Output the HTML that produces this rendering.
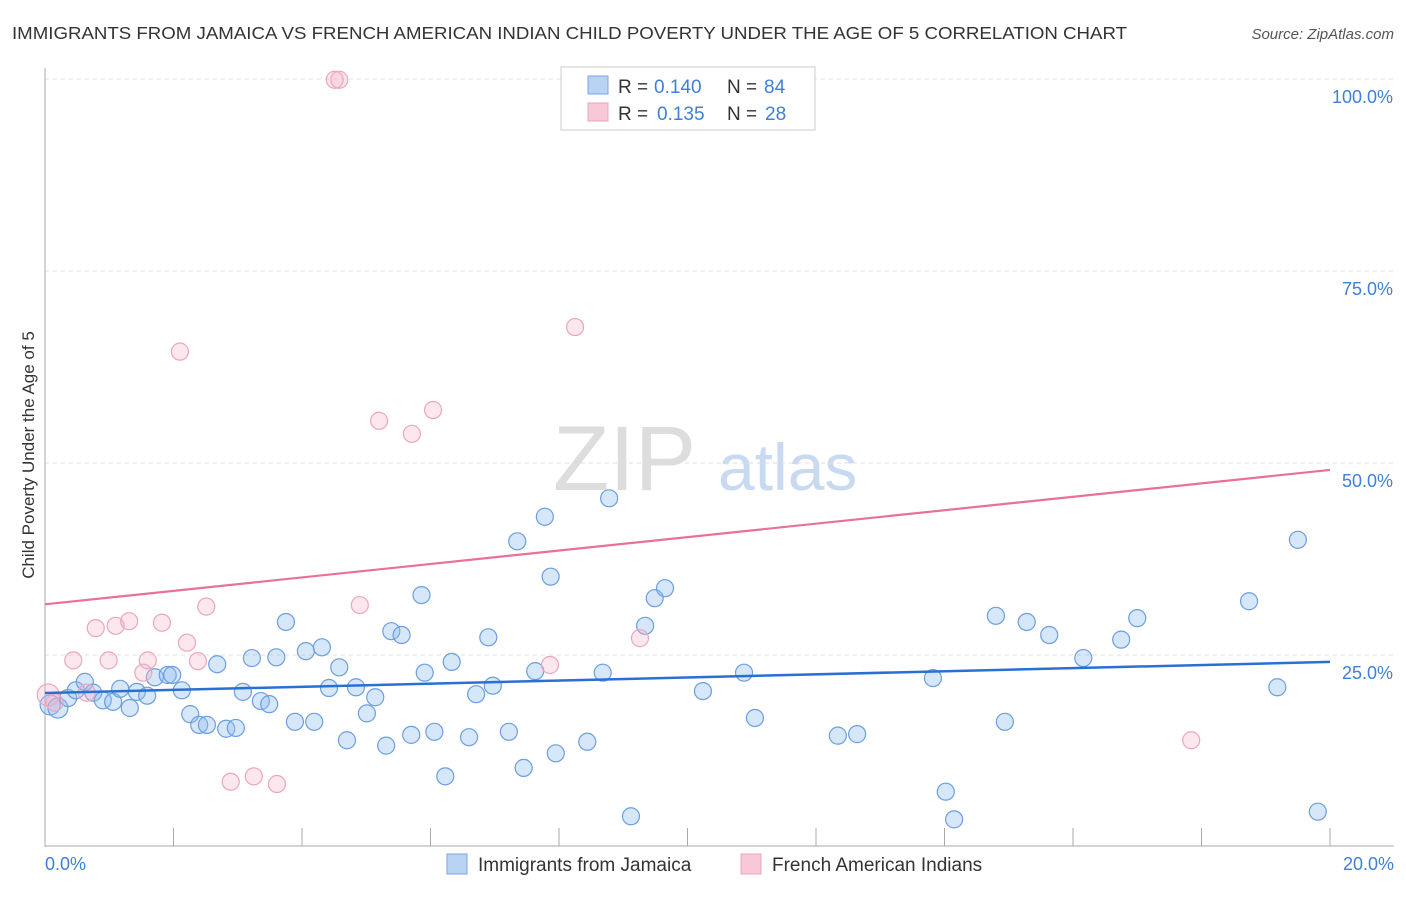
<!DOCTYPE html>
<html><head><meta charset="utf-8"><style>
body{margin:0;background:#fff;font-family:"Liberation Sans",sans-serif}
svg text{font-family:"Liberation Sans",sans-serif}
</style></head><body>
<svg id="c" width="1406" height="892" xmlns="http://www.w3.org/2000/svg">
<text x="12" y="39" font-size="17.5" textLength="1115" lengthAdjust="spacingAndGlyphs" fill="#333">IMMIGRANTS FROM JAMAICA VS FRENCH AMERICAN INDIAN CHILD POVERTY UNDER THE AGE OF 5 CORRELATION CHART</text>
<text x="1394" y="39" font-size="15" fill="#555" font-style="italic" text-anchor="end">Source: ZipAtlas.com</text>
<text x="34" y="455" font-size="17" fill="#333" text-anchor="middle" transform="rotate(-90 34 455)">Child Poverty Under the Age of 5</text>
<text x="553" y="490" font-size="92" fill="#ddd" font-family="Liberation Serif">ZIP</text>
<text x="718" y="490" font-size="66" fill="#c8daf2">atlas</text>
<g id="grid"></g><g id="axes"></g><g id="pts"></g><g id="lines"></g>
<g>
<rect x="561" y="67" width="254" height="63" fill="#fff" stroke="#ccc"/>
<rect x="588" y="76" width="20" height="18" fill="#b9d3f5" stroke="#7aa6e2"/>
<text x="618" y="93" font-size="19" fill="#333">R =</text>
<text x="654" y="93" font-size="19" fill="#3f7fd6">0.140</text>
<text x="727" y="93" font-size="19" fill="#333">N =</text>
<text x="764" y="93" font-size="19" fill="#3f7fd6">84</text>
<rect x="588" y="103" width="20" height="18" fill="#f8c8d6" stroke="#eda5bd"/>
<text x="618" y="120" font-size="19" fill="#333">R =</text>
<text x="657" y="120" font-size="19" fill="#3f7fd6">0.135</text>
<text x="727" y="120" font-size="19" fill="#333">N =</text>
<text x="765" y="120" font-size="19" fill="#3f7fd6">28</text>
</g>
<g>
<rect x="447" y="854" width="20" height="20" fill="#b9d3f5" stroke="#7aa6e2"/>
<text x="478" y="871" font-size="19" fill="#333">Immigrants from Jamaica</text>
<rect x="741" y="854" width="20" height="20" fill="#f8c8d6" stroke="#eda5bd"/>
<text x="772" y="871" font-size="19" fill="#333">French American Indians</text>
</g>
</svg>
<script>
const blueX=[0.08,0.2,0.36,0.48,0.62,0.75,0.9,1.06,1.17,1.32,1.43,1.59,1.71,1.91,1.98,2.13,2.26,2.4,2.52,2.68,2.82,2.97,3.08,3.22,3.36,3.49,3.6,3.75,3.89,4.06,4.19,4.31,4.42,4.58,4.7,4.84,5.01,5.14,5.31,5.39,5.55,5.7,5.86,5.91,6.06,6.23,6.33,6.6,6.71,6.9,6.97,7.22,7.35,7.45,7.63,7.78,7.87,7.95,8.44,8.68,8.78,9.12,9.34,9.49,9.65,10.24,10.88,11.05,12.34,12.64,13.82,14.02,14.15,14.8,14.94,15.28,15.63,16.16,16.75,17.0,18.74,19.18,19.5,19.81];
const blueY=[18.5,18.1,19.4,20.4,21.5,20.1,19.1,18.9,20.6,18.1,20.2,19.7,22.1,22.4,22.4,20.4,17.3,15.9,15.9,23.8,15.4,15.5,20.2,24.6,19.0,18.6,24.7,29.3,16.3,25.5,16.3,26.0,20.7,23.4,13.9,20.8,17.4,19.5,13.2,28.1,27.6,14.6,32.8,22.7,15.0,9.2,24.1,14.3,19.9,27.3,21.0,15.0,39.8,10.3,22.9,43.0,35.2,12.2,13.7,22.7,45.4,4.0,28.8,32.4,33.7,20.3,22.7,16.8,14.5,14.7,22.0,7.2,3.6,30.1,16.3,29.3,27.6,24.6,27.0,29.8,32.0,20.8,40.0,4.6];
const pinkX=[0.05,0.15,0.44,0.65,0.79,0.99,1.1,1.31,1.53,1.6,1.82,2.1,2.21,2.38,2.51,2.89,3.25,3.61,4.51,4.58,4.9,5.2,5.71,6.04,7.86,8.25,9.26,17.84];
const pinkY=[19.8,18.8,24.3,20.1,28.5,24.3,28.8,29.4,22.7,24.3,29.2,64.5,26.6,24.2,31.3,8.5,9.2,8.2,99.9,99.9,31.5,55.5,53.8,56.9,23.7,67.7,27.2,13.9];
const trendBlue=[20.05,24.1], trendPink=[31.6,49.1];
const yTicks=[25,50,75,100], yTickLabels=["25.0%","50.0%","75.0%","100.0%"];
const NS="http://www.w3.org/2000/svg";
const X=v=>45+v/20*1285, Y=v=>847-v*7.68;
function mk(t,a,p){const e=document.createElementNS(NS,t);for(const k in a)e.setAttribute(k,a[k]);document.getElementById(p).appendChild(e);return e;}
yTicks.forEach((t,i)=>{
 const l=mk('line',{x1:45,x2:1394,y1:Y(t),y2:Y(t),stroke:'#ddd','stroke-dasharray':'4,4'},'grid');
 
 
 const tx=mk('text',{x:1393,y:Y(t)+24,'font-size':18,fill:'#3f7fd6','text-anchor':'end'},'grid');
 tx.textContent=yTickLabels[i];
 
 
});
const ya=mk('line',{x1:45,x2:45,y1:68,y2:847,stroke:'#aaa'},'axes');


const xa=mk('line',{x1:45,x2:1394,y1:846,y2:846,stroke:'#aaa'},'axes');


for(let i=1;i<=10;i++){const t=mk('line',{x1:X(i*2),x2:X(i*2),y1:828,y2:846,stroke:'#aaa'},'axes');
 
 }
[["0.0%",45,'start'],["20.0%",1394,'end']].forEach(a=>{const t=mk('text',{x:a[1],y:870,'font-size':18,fill:'#3f7fd6','text-anchor':a[2]},'axes');t.textContent=a[0];
 
 });
blueX.forEach((x,i)=>{const c=mk('circle',{cx:X(x),cy:Y(blueY[i]),r:i<2?10:8.5,fill:'rgba(140,185,240,0.35)',stroke:'#6b9ee2','stroke-width':1.2},'pts');
 
 });
pinkX.forEach((x,i)=>{const c=mk('circle',{cx:X(x),cy:Y(pinkY[i]),r:i<1?11:8.5,fill:'rgba(245,175,200,0.3)',stroke:'#eda5bd','stroke-width':1.2},'pts');
 
 });
const tb=mk('line',{x1:X(0),x2:X(20),y1:Y(trendBlue[0]),y2:Y(trendBlue[1]),stroke:'#2a6fd4','stroke-width':2.5},'lines');


const tp=mk('line',{x1:X(0),x2:X(20),y1:Y(trendPink[0]),y2:Y(trendPink[1]),stroke:'#e8709a','stroke-width':2.2},'lines');


</script>
</body></html>
